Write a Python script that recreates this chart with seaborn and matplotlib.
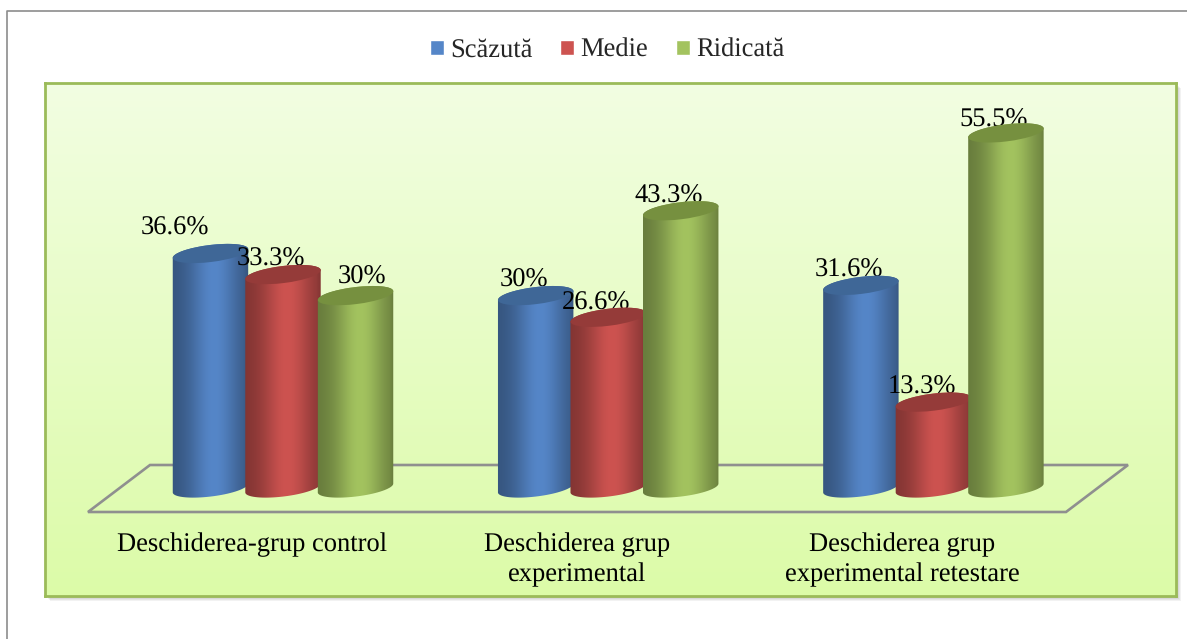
import numpy as np
import pandas as pd
import seaborn as sns
import matplotlib.pyplot as plt
from matplotlib.colors import to_rgb
from matplotlib.lines import Line2D
from matplotlib.patches import Ellipse, Polygon, Rectangle
from matplotlib.path import Path
from matplotlib.transforms import IdentityTransform

# Datos
categorias = ["Deschiderea-grup control", "Deschiderea grup\nexperimental", "Deschiderea grup\nexperimental retestare"]
niveles = ["Scăzută", "Medie", "Ridicată"]
scazuta = [36.6, 30, 31.6]
medie = [33.3, 26.6, 13.3]
ridicata = [30, 43.3, 55.5]

colores = ["#5586c8", "#cd5350", "#a3c35f"]
colores_tapa = ["#3f6797", "#953b39", "#76903f"]

W, H = 1187, 639
sns.set_theme(style="white")
plt.rcParams["font.family"] = ["Liberation Serif", "DejaVu Serif"]
plt.rcParams["text.hinting"] = "none"
FS = 19.1

fig = plt.figure(figsize=(W / 100, H / 100), dpi=100)

# Panel verde en pixeles de la imagen
izq, der, arriba, abajo = 45, 1175.5, 83, 596
ax = fig.add_axes([izq / W, 1 - abajo / H, (der - izq) / W, (abajo - arriba) / H])

tabla = pd.DataFrame({
    "categoria": np.repeat(categorias, 3),
    "nivel": niveles * 3,
    "valor": [v for trio in zip(scazuta, medie, ridicata) for v in trio],
})
sns.barplot(data=tabla, x="categoria", y="valor", hue="nivel", order=categorias, hue_order=niveles,
            palette=colores, width=0.669, gap=0.1, saturation=1, ax=ax)

# Escalas: el centro del primer grupo cae en x=283 y el cero en y=487
x0, px_x = 283, 325.2
y0, px_y = 487, 6.38
ax.set_xlim((izq - x0) / px_x, (der - x0) / px_x)
ax.set_ylim((y0 - abajo) / px_y, (y0 - arriba) / px_y)
ax.autoscale(False)

# Fondo con degradado
fondo = np.linspace(0, 1, 256)[:, None]
c_arriba = np.array([0xf2, 0xfe, 0xe2]) / 255
c_abajo = np.array([0xdc, 0xfb, 0xa8]) / 255
fondo_rgb = (c_arriba + (c_abajo - c_arriba) * fondo)[:, None, :]
ax.imshow(fondo_rgb, extent=[*ax.get_xlim(), *ax.get_ylim()], origin="upper", aspect="auto", zorder=0)

for lado in ax.spines.values():
    lado.set_color("#9bbb59")
    lado.set_linewidth(2)
    lado.set_visible(True)

# Sombra del panel
for k in range(1, 6):
    fig.patches.append(Rectangle(((izq + k) / W, 1 - (abajo + k) / H), (der - izq) / W, (abajo - arriba) / H,
                                 transform=fig.transFigure, facecolor="black", edgecolor="none", alpha=0.05,
                                 zorder=-1))

# Marco gris exterior
fig.add_artist(Line2D([6.5 / W, 6.5 / W, 1], [0, 1 - 10.5 / H, 1 - 10.5 / H], color="#8c8c8c", lw=1.2))

# Piso en perspectiva
piso = [(88, 512), (1066, 512), (1128, 465), (150, 465)]
ax.add_patch(Polygon([(x, H - y) for x, y in piso], closed=True, fill=False, edgecolor="#8f8f8f", lw=1.9,
                     transform=IdentityTransform(), zorder=2))

# Cilindros
ANCHO = 76
ALTO_ELIPSE = 17
ANG = np.deg2rad(7)
desvio = {(0, 0): (-36, 25.5), (0, 2): (7, 18), (1, 1): (-12, 14), (2, 2): (-12, 13)}


def elipse(cx, cy, t):
    u = ANCHO / 2 * np.cos(t)
    v = ALTO_ELIPSE / 2 * np.sin(t)
    return np.column_stack([cx + u * np.cos(ANG) - v * np.sin(ANG), cy + u * np.sin(ANG) + v * np.cos(ANG)])


for h, cont in enumerate(ax.containers):
    base = np.array(to_rgb(colores[h]))
    for g, barra in enumerate(cont):
        val = barra.get_height()
        xc = barra.get_x() + barra.get_width() / 2
        cx, cy = ax.transData.transform((xc, val))
        _, by = ax.transData.transform((xc, 0))

        # etiqueta antes que su cilindro: la tapa la corta
        dx, dy = desvio.get((g, h), (-12, 15))
        ax.annotate(f"{val:g}%", xy=(xc, val), xytext=(dx * 0.72, dy * 0.72), textcoords="offset points",
                    ha="center", va="center", fontsize=FS, color="black", zorder=10 + 2 * h, annotation_clip=False)

        # contorno: arco superior de la tapa y arco inferior de la base
        contorno = np.vstack([elipse(cx, cy, np.linspace(np.pi, 0, 40)),
                              elipse(cx, by - 1, np.linspace(2 * np.pi, np.pi, 40))])
        perfil = np.linspace(0, 1, 120)
        sombra = 0.62 + 0.38 * np.exp(-((perfil - 0.55) / 0.3) ** 2)
        sombra[perfil > 0.9] -= (perfil[perfil > 0.9] - 0.9) * 0.8
        img = np.clip(base[None, None, :] * sombra[None, :, None], 0, 1)
        izq_d = ax.transData.inverted().transform((cx - ANCHO / 2 - 4, by))[0]
        der_d = ax.transData.inverted().transform((cx + ANCHO / 2 + 4, by))[0]
        inf_d = ax.transData.inverted().transform((cx, by - 20))[1]
        sup_d = ax.transData.inverted().transform((cx, cy + 20))[1]
        cuerpo = ax.imshow(img, extent=[izq_d, der_d, inf_d, sup_d], aspect="auto", zorder=11 + 2 * h)
        cuerpo.set_clip_path(Path(np.vstack([contorno, contorno[:1]]), closed=True), IdentityTransform())
        ax.add_patch(Ellipse((cx, cy), ANCHO, ALTO_ELIPSE, angle=7, facecolor=colores_tapa[h], edgecolor="none",
                             transform=IdentityTransform(), zorder=11.5 + 2 * h))

# Etiquetas de categoria, corridas a la izquierda de cada grupo
ax.set_xticks(np.arange(3) - 31 / px_x)
ax.set_xticklabels(categorias, fontsize=FS, color="black", linespacing=1.33)
ax.tick_params(axis="x", length=0, pad=-46)
ax.tick_params(axis="y", left=False, labelleft=False)
ax.set_xlabel("")
ax.set_ylabel("")

# Leyenda
handles, labels = ax.get_legend_handles_labels()
ax.legend(handles, labels, loc="center", bbox_to_anchor=(607 / W, 1 - 50.5 / H), bbox_transform=fig.transFigure,
          ncols=3, frameon=False, fontsize=FS, handlelength=0.53, handleheight=0.53, handletextpad=0.23,
          columnspacing=1.05, borderpad=0, borderaxespad=0)

fig.savefig("out.png", dpi=100)
